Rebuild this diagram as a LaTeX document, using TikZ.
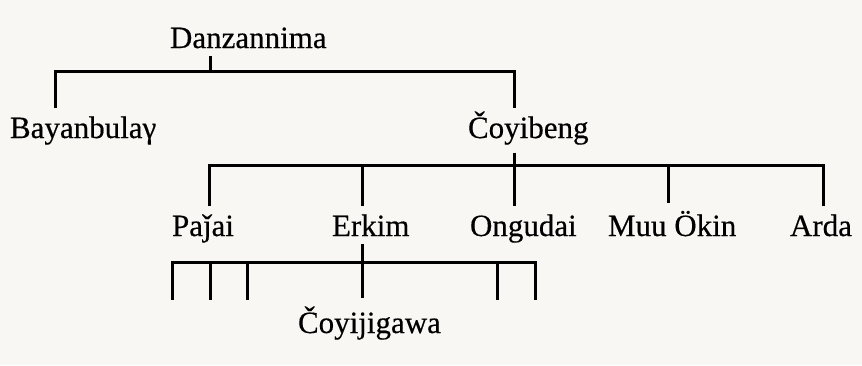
\documentclass[tikz,border=0pt]{standalone}
\usepackage{fontspec}
\setmainfont{Liberation Serif}[FakeBold=0.4]
\usetikzlibrary{positioning}
\definecolor{paper}{RGB}{249,247,244}
\tikzset{person/.style={anchor=base west,inner sep=0pt,outer sep=4pt,font=\fontsize{15.5}{18}\selectfont}}
\tikzset{link/.style={line width=1.5pt}}

\begin{document}
\begin{tikzpicture}[x=0.5pt,y=-0.5pt]
    \fill[paper] (0,0) rectangle (862,365);
    \useasboundingbox (0,0) rectangle (862,365);

    \node[person] (danz) at (162,48) {Danzannima};
    \node[person] (bay) at (2,138) {Bayanbulaγ};
    \node[person] (coy) at (460,138) {Čoyibeng};
    \node[person] (paj) at (164,236) {Paǰai};
    \node[person] (erk) at (324,236) {Erkim};
    \node[person] (ong) at (462,236) {Ongudai};
    \node[person] (muu) at (600,236) {Muu Ökin};
    \node[person] (ard) at (782,236) {Arda};
    \node[person] (cji) at (290,333) {Čoyijigawa};

    % first generation
    \coordinate (d0) at (210,71);
    \coordinate (d1) at (55,71);
    \coordinate (d2) at (514,71);
    \draw [link] (danz.south -| d0) -- (d0);
    \draw [link] (bay.north -| d1) -- (d1) -- (d2) -- (bay.north -| d2);

    % second generation
    \coordinate (c0) at (514,165);
    \coordinate (c1) at (209,165);
    \coordinate (c5) at (823,165);
    \draw [link] (coy.south -| c0) -- (c0);
    \draw [link] (paj.north -| c1) -- (c1) -- (c5) -- (paj.north -| c5);
    \draw [link] (c0) -- (paj.north -| c0);
    \draw [link] (erk.north -| 362,0) -- (362,165);
    \draw [link] (muu.north -| 668,0) -- (668,165);

    % third generation
    \coordinate (e0) at (362,262);
    \coordinate (e1) at (172,262);
    \coordinate (e6) at (535,262);
    \coordinate (k1) at (172,300);
    \coordinate (k2) at (210,300);
    \coordinate (k3) at (247,300);
    \coordinate (k4) at (497,300);
    \coordinate (k5) at (535,300);
    \draw [link] (erk.south -| e0) -- (e0);
    \draw [link] (k1) -- (e1) -- (e6) -- (k5);
    \draw [link] (k2) -- (k2 |- e0);
    \draw [link] (k3) -- (k3 |- e0);
    \draw [link] (k4) -- (k4 |- e0);
    \draw [link] (e0) -- (cji.north -| e0);
\end{tikzpicture}
\end{document}
